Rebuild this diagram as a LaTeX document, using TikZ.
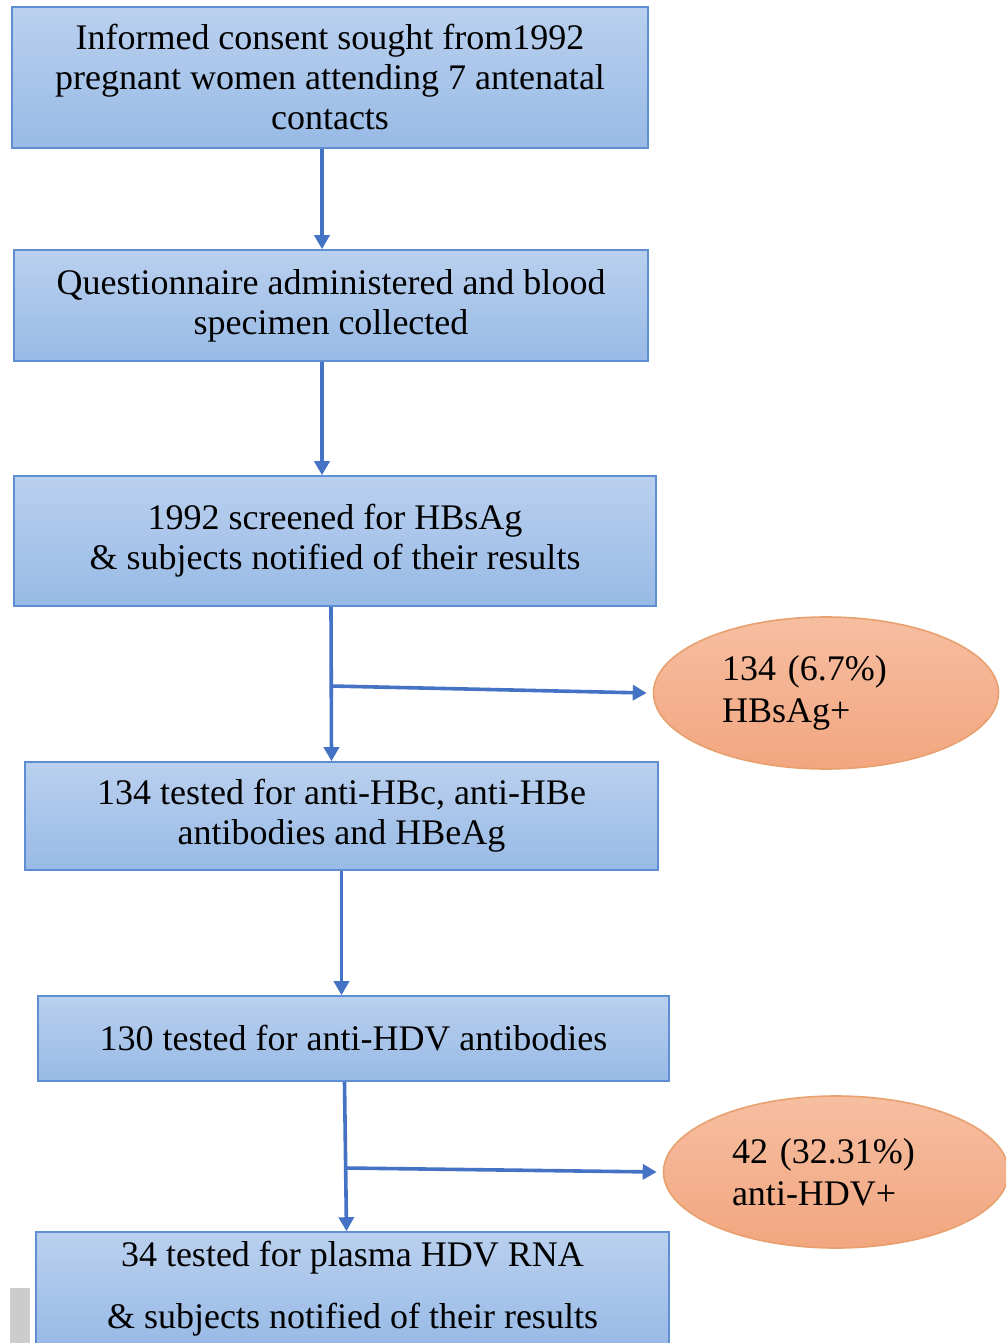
\documentclass[tikz,border=0pt]{standalone}
\usepackage{fontspec}
\setmainfont{Liberation Serif}
\usetikzlibrary{shapes.geometric,arrows.meta}
\definecolor{boxtop}{RGB}{186,208,238}
\definecolor{boxbottom}{RGB}{152,186,230}
\definecolor{boxline}{RGB}{96,142,210}
\definecolor{ovaltop}{RGB}{246,190,160}
\definecolor{ovalbottom}{RGB}{242,166,128}
\definecolor{ovalline}{RGB}{232,160,110}
\definecolor{arrowblue}{RGB}{68,114,196}
\begin{document}
\begin{tikzpicture}[x=0.5pt, y=-0.5pt,
               box_style/.style={rectangle,draw=boxline,line width=0.8pt,top color=boxtop,bottom color=boxbottom,align=center,inner sep=0pt,font=\fontsize{18}{20}\selectfont},
               oval_style/.style={ellipse,draw=ovalline,line width=0.8pt,top color=ovaltop,bottom color=ovalbottom,inner sep=0pt,text width=104pt,align=left,minimum width=172.5pt,minimum height=76pt,font=\fontsize{18}{21}\selectfont},
               arrow_style/.style={draw=arrowblue,line width=1.8pt,-{Triangle[length=7pt,width=7.5pt]}}]
                \clip (0,0) rectangle (1006,1343);
                \useasboundingbox (0,0) rectangle (1006,1343);
                \node[box_style,minimum width=318pt,minimum height=70.5pt] (consent) at (330,77.5) {Informed consent sought from1992\\pregnant women attending 7 antenatal\\contacts};
                \node[box_style,minimum width=317pt,minimum height=55.5pt] (quest) at (331,305.5) {Questionnaire administered and blood\\specimen collected};
                \node[box_style,minimum width=321pt,minimum height=65pt] (screen) at (335,541) {1992 screened for HBsAg\\\& subjects notified of their results};
                \node[box_style,minimum width=316.5pt,minimum height=54pt] (hbc) at (341.5,816) {134 tested for anti-HBc, anti-HBe\\antibodies and HBeAg};
                \node[box_style,minimum width=315.5pt,minimum height=42.5pt] (hdv) at (353.5,1038.5) {130 tested for anti-HDV antibodies};
                \node[box_style,minimum width=316.5pt,minimum height=57pt,font=\fontsize{18}{31}\selectfont] (rna) at (352.5,1289) {34 tested for plasma HDV RNA\\\& subjects notified of their results};
                \node[oval_style] (hbspos) at (826,693) {134 (6.7\%)\\HBsAg+};
                \node[oval_style] (hdvpos) at (836,1172) {42 (32.31\%)\\anti-HDV+};
                \fill[gray!40] (10,1288) rectangle (30,1343);

                \coordinate (split1) at (331,686);
                \coordinate (split2) at (345,1168);
                \draw[arrow_style] ([xshift=-4pt]consent.south) -- ([xshift=-4.5pt]quest.north);
                \draw[arrow_style] ([xshift=-4.5pt]quest.south) -- ([xshift=-6.5pt]screen.north);
                \draw[arrow_style] ([xshift=-2pt]screen.south) -- ([xshift=-5pt]hbc.north);
                \draw[arrow_style] (split1) -- ([xshift=-3pt]hbspos.west);
                \draw[arrow_style] (hbc.south) -- ([xshift=-6pt]hdv.north);
                \draw[arrow_style] ([xshift=-4.5pt]hdv.south) -- ([xshift=-3pt]rna.north);
                \draw[arrow_style] (split2) -- ([xshift=-3pt]hdvpos.west);
            \end{tikzpicture}
\end{document}
